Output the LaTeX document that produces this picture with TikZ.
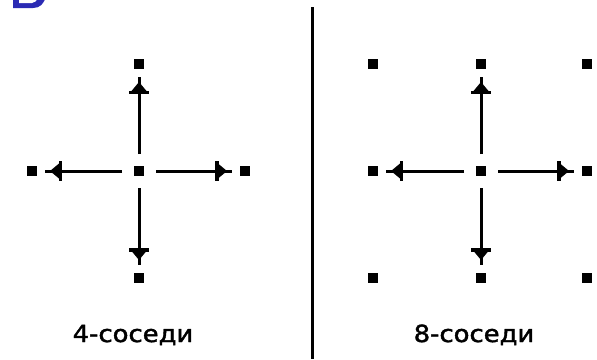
\documentclass[tikz,border=0pt]{standalone}
\usepackage{fontspec}
\newfontfamily\labelfont{DejaVu Sans}[FakeBold=1.6]
\usetikzlibrary{decorations.markings}
\definecolor{letterblue}{HTML}{2B2BB4}
\tikzset{
  pixel/.style={rectangle, fill=black, minimum size=10pt, inner sep=0pt, outer sep=0pt},
  % arrow head: filled triangle with a cross bar behind it; the line runs on a little past the tip
  % (markings see the unshortened path, so the position counts from the node border)
  headmark/.style={decoration={markings, mark=at position -13pt with {
      \fill (0,0) -- (-9,-7.5) -- (-9,7.5) -- cycle;
      \fill (-12,-10) rectangle (-8.5,10);}}},
  link/.style={line width=3pt, shorten <=12pt, shorten >=8pt,
    postaction={decorate}, headmark},
  caption/.style={anchor=base, inner sep=0pt, font=\labelfont\fontsize{23.5}{26}\selectfont},
  divider/.style={line width=3pt}
}
\begin{document}
\begin{tikzpicture}[x=1pt,y=-1pt]
  \useasboundingbox (0,0) rectangle (597,359);
  % lower part of the bold blue letter at the top edge
  \begin{scope}
    \clip (0,0) rectangle (597,359);
    \fill[letterblue] (13,-4) -- (13,8) -- (33,8) .. controls (40,8) and (44,4) .. (46,-4) -- cycle;
    \fill[white] (19,-4) -- (19,3) -- (32,3) .. controls (35,3) and (37,1) .. (38,-4) -- cycle;
  \end{scope}
  % 4-neighbourhood
  \node[pixel] (ac) at (139,171) {};
  \node[pixel] (an) at (139,64) {};
  \node[pixel] (as) at (139,278) {};
  \node[pixel] (aw) at (32,171) {};
  \node[pixel] (ae) at (245,171) {};
  \draw[link] (ac) -- (an);
  \draw[link] (ac) -- (as);
  \draw[link] (ac) -- (aw);
  \draw[link] (ac) -- (ae);
  \node[caption] (acap) at (133,342) {\scalebox{1.1}[1]{4-соседи}};
  % separator
  \coordinate (dtop) at (312,7);
  \coordinate (dbot) at (312,359);
  \draw[divider] (dtop) -- (dbot);
  % 8-neighbourhood
  \node[pixel] (bc) at (481,171) {};
  \node[pixel] (bn) at (481,64) {};
  \node[pixel] (bs) at (481,278) {};
  \node[pixel] (bw) at (373,171) {};
  \node[pixel] (be) at (587,171) {};
  \node[pixel] (bnw) at (373,64) {};
  \node[pixel] (bne) at (587,64) {};
  \node[pixel] (bsw) at (373,278) {};
  \node[pixel] (bse) at (587,278) {};
  \draw[link] (bc) -- (bn);
  \draw[link] (bc) -- (bs);
  \draw[link] (bc) -- (bw);
  \draw[link] (bc) -- (be);
  \node[caption] (bcap) at (474,342) {\scalebox{1.1}[1]{8-соседи}};
\end{tikzpicture}
\end{document}
